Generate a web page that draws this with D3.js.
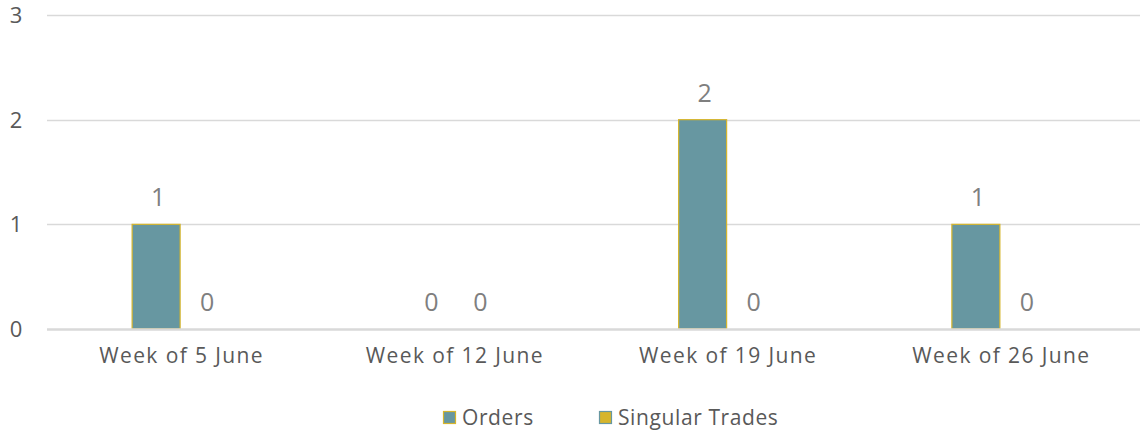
<!DOCTYPE html>
<html>
<head>
<meta charset="utf-8">
<script src="https://cdn.jsdelivr.net/npm/d3@7"></script>
<style>
  html, body { margin: 0; padding: 0; background: #fff; }
  svg text { font-family: "Century Gothic", "Open Sans", "DejaVu Sans", sans-serif; }
</style>
</head>
<body>
<svg id="chart" width="1140" height="431"></svg>
<script>
const categories = ["Week of 5 June", "Week of 12 June", "Week of 19 June", "Week of 26 June"];
const seriesNames = ["Orders", "Singular Trades"];
const orders = [1, 0, 2, 1];
const singularTrades = [0, 0, 0, 0];
const yTicks = [0, 1, 2, 3];

const fills = ["#6797a1", "#d6b52c"];
const strokes = ["#d6b52c", "#6797a1"];
const seriesValues = [orders, singularTrades];

const svg = d3.select("#chart");
const plotLeft = 44, plotRight = 1137, plotTop = 15, plotBottom = 329;

const x = d3.scaleBand().domain(categories).range([plotLeft, plotRight]);
const inner = d3.scaleBand().domain(seriesNames).range([0, 98]);
const y = d3.scaleLinear().domain([0, 3]).range([plotBottom, plotTop]);

// gridlines
svg.append("g").selectAll("line").data(yTicks.filter(d => d > 0)).join("line")
  .attr("x1", 47).attr("x2", 1140)
  .attr("y1", d => Math.round(y(d)) + 0.5).attr("y2", d => Math.round(y(d)) + 0.5)
  .attr("stroke", "#d9d9d9").attr("stroke-width", 1.5);

// y axis labels
svg.append("g").selectAll("text").data(yTicks).join("text")
  .attr("x", 16).attr("y", d => y(d) + 8)
  .attr("text-anchor", "middle")
  .attr("font-size", 22).attr("fill", "#595959")
  .text(d => d);

// bars
const groups = svg.append("g").selectAll("g").data(categories).join("g")
  .attr("transform", c => `translate(${x(c) + x.bandwidth() / 2 - 49},0)`);

seriesNames.forEach((s, si) => {
  groups.append("rect")
    .attr("x", inner(s) + 0.5)
    .attr("width", inner.bandwidth() - 1)
    .attr("y", (c, i) => y(seriesValues[si][i]))
    .attr("height", (c, i) => y(0) - y(seriesValues[si][i]))
    .attr("fill", fills[si])
    .attr("stroke", strokes[si]).attr("stroke-width", 1.2)
    .attr("display", (c, i) => seriesValues[si][i] === 0 ? "none" : null);
  groups.append("text")
    .attr("x", inner(s) + inner.bandwidth() / 2 + 2)
    .attr("y", (c, i) => y(seriesValues[si][i]) - 18)
    .attr("text-anchor", "middle")
    .attr("font-size", 25).attr("fill", "#7f7f7f")
    .text((c, i) => seriesValues[si][i]);
});

// baseline
svg.append("line")
  .attr("x1", 47).attr("x2", 1140)
  .attr("y1", plotBottom + 0.5).attr("y2", plotBottom + 0.5)
  .attr("stroke", "#d9d9d9").attr("stroke-width", 2.5);

// category labels
svg.append("g").selectAll("text").data(categories).join("text")
  .attr("x", c => x(c) + x.bandwidth() / 2 + 1)
  .attr("y", 363)
  .attr("text-anchor", "middle")
  .attr("font-size", 21).attr("fill", "#595959")
  .attr("letter-spacing", 1.4)
  .text(c => c);

// legend
const legendX = [443, 599];
const legend = svg.append("g").selectAll("g").data(seriesNames).join("g")
  .attr("transform", (d, i) => `translate(${legendX[i]},411)`);
legend.append("rect")
  .attr("x", 0.5).attr("y", 0.5).attr("width", 12).attr("height", 12)
  .attr("fill", (d, i) => fills[i]).attr("stroke", (d, i) => strokes[i]).attr("stroke-width", 1.2);
legend.append("text")
  .attr("x", 19).attr("y", 14)
  .attr("font-size", 21).attr("fill", "#595959")
  .attr("letter-spacing", 0.6)
  .text(d => d);
</script>
</body>
</html>
